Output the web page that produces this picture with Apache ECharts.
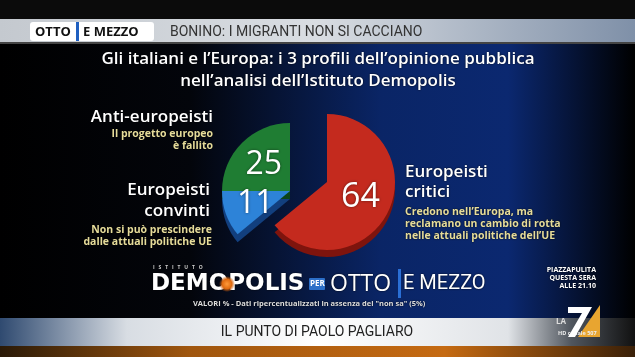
<!DOCTYPE html>
<html><head><meta charset="utf-8">
<script src="https://cdn.jsdelivr.net/npm/echarts@6/dist/echarts.min.js"></script>
<style>html,body{margin:0;padding:0;background:#000}#c{width:635px;height:357px}</style>
</head><body><div id="c"></div>
<script>
const categories = ['Europeisti critici', 'Europeisti convinti', 'Anti-europeisti'];
const values = [64, 11, 25];
const titleLines = ["Gli italiani e l\u2019Europa: i 3 profili dell\u2019opinione pubblica", "nell\u2019analisi dell\u2019Istituto Demopolis"];
const headline = 'BONINO: I MIGRANTI NON SI CACCIANO';
const footer = 'IL PUNTO DI PAOLO PAGLIARO';
const note = 'VALORI % - Dati ripercentualizzati in assenza del "non sa" (5%)';

const topColors = ['#c42a1e', '#2d83d8', '#1f7d33'];
const sideColors = ['#7e140d', '#123f7e', '#0c4519'];
const F = 'Open Sans';

const chart = echarts.init(document.getElementById('c'));
function txt(x, y, s, size, color, align, weight, font, shadow) {
  return {type:'text', x:x, y:y, style:{text:s, fill:color, font:(weight||'bold')+' '+size+'px "'+(font||F)+'"', textAlign:align||'left', textVerticalAlign:'middle', textShadowColor:shadow===false?'transparent':'rgba(0,0,0,0.85)', textShadowBlur:shadow===false?0:2}, z:10};
}
const yel = '#e6dc9a';
const graphics = [
  {type:'rect', shape:{x:0,y:0,width:635,height:19}, style:{fill:'#0b0b0b'}},
  {type:'rect', shape:{x:0,y:19,width:635,height:25}, style:{fill:new echarts.graphic.LinearGradient(0,0,1,0,[{offset:0,color:'#c4c9cf'},{offset:0.5,color:'#d9dde2'},{offset:1,color:'#7f90a8'}])}},
  {type:'rect', shape:{x:0,y:42,width:635,height:2}, style:{fill:'#444'}},
  {type:'rect', shape:{x:30,y:22,width:124,height:19,r:3}, style:{fill:'#ffffff'}},
  txt(35, 32, 'OTTO', 13, '#111', 'left', 'bold', 'Open Sans', false),
  {type:'rect', shape:{x:76,y:22,width:3,height:19}, style:{fill:'#1f5fc0'}},
  txt(83, 32, 'E MEZZO', 13, '#111', 'left', 'bold', 'Open Sans', false),
  txt(170, 32, headline, 14, '#333', 'left', 'normal', 'Roboto', false),
  txt(318, 59, titleLines[0], 17, '#fff', 'center', '600'),
  txt(318, 81, titleLines[1], 17, '#fff', 'center', '600'),
  txt(213, 117, 'Anti-europeisti', 17, '#fff', 'right', '600'),
  txt(213, 134, 'Il progetto europeo', 10.5, yel, 'right', 'bold'),
  txt(213, 146, '\u00e8 fallito', 10.5, yel, 'right', 'bold'),
  txt(210, 190, 'Europeisti', 17, '#fff', 'right', '600'),
  txt(210, 211, 'convinti', 17, '#fff', 'right', '600'),
  txt(212, 230, 'Non si pu\u00f2 prescindere', 10.5, yel, 'right', 'bold'),
  txt(212, 242, 'dalle attuali politiche UE', 10.5, yel, 'right', 'bold'),
  txt(405, 172, 'Europeisti', 17, '#fff', 'left', '600'),
  txt(405, 192, 'critici', 17, '#fff', 'left', '600'),
  txt(405, 212, 'Credono nell\u2019Europa, ma', 10.5, yel, 'left', 'bold'),
  txt(405, 224, 'reclamano un cambio di rotta', 10.5, yel, 'left', 'bold'),
  txt(405, 236, 'nelle attuali politiche dell\u2019UE', 10.5, yel, 'left', 'bold'),
  txt(153, 268, 'I   S   T   I   T   U   T   O', 5, '#ccc', 'left', 'bold'),
  txt(151, 284, 'DEMOPOLIS', 23, '#fff', 'left', '900', 'DejaVu Sans'),
  {type:'circle', shape:{cx:227,cy:284,r:8}, style:{fill:new echarts.graphic.RadialGradient(0.5,0.5,0.5,[{offset:0,color:'#ff9a3a'},{offset:0.6,color:'#e06a10'},{offset:1,color:'rgba(200,90,10,0)'}])}, z:11},
  {type:'rect', shape:{x:309,y:278,width:16,height:12,r:1}, style:{fill:'#2c6fc8'}},
  txt(310, 284, 'PER', 8, '#fff', 'left', 'bold', 'Open Sans', false),
  txt(330, 284, 'OTTO', 23, '#fff', 'normal', 'normal', 'Open Sans'),
  {type:'rect', shape:{x:398,y:269,width:3,height:29}, style:{fill:'#2a6fd6'}},
  txt(403, 284, 'E MEZZO', 20, '#fff', 'left', 'normal', 'Roboto'),
  txt(193, 304, note, 7.5, '#ddd', 'left', 'bold'),
  txt(596, 270, 'PIAZZAPULITA', 7, '#fff', 'right', 'bold'),
  txt(596, 278, 'QUESTA SERA', 7, '#fff', 'right', 'bold'),
  txt(596, 286, 'ALLE 21.10', 7, '#fff', 'right', 'bold'),
  {type:'rect', shape:{x:0,y:318,width:635,height:28}, style:{fill:new echarts.graphic.LinearGradient(0,0,1,0,[{offset:0,color:'#2f4a70'},{offset:0.2,color:'#d8dde3'},{offset:0.5,color:'#ffffff'},{offset:0.8,color:'#e0e3e7'},{offset:0.9,color:'#50565e'},{offset:1,color:'#111'}])}},
  {type:'rect', shape:{x:0,y:346,width:635,height:11}, style:{fill:new echarts.graphic.LinearGradient(0,0,1,0,[{offset:0,color:'#2a1a08'},{offset:0.3,color:'#a0560e'},{offset:0.7,color:'#c56a12'},{offset:1,color:'#3a2008'}])}},
  txt(317, 332, footer, 14, '#222', 'center', 'normal', 'Roboto', false),
  {type:'polygon', shape:{points:[[578,337],[600,305],[600,337]]}, style:{fill:'#e8a530'}, z:10},
  {type:'polygon', shape:{points:[[568,307],[592,307],[575,337],[568,337],[582,313],[568,313]]}, style:{fill:'#ffffff'}, z:11},
  txt(556, 322, 'LA', 8, '#ddd', 'left', 'bold', 'Open Sans', false),
  txt(558, 333, 'HD canale 507', 5.5, '#eee', 'left', 'bold', 'Open Sans', false)
];

function pieData(colors, keep, withLabel) {
  return categories.map((c, i) => ({name:c, value:values[i], itemStyle:{color: keep.indexOf(i) >= 0 ? colors[i] : 'rgba(0,0,0,0)'}, label:{show: withLabel && keep.indexOf(i) >= 0}}));
}
const R = 68;
const labelStyle = {show:true, position:'inside', formatter:'{c}', color:'#fff', fontSize:32, fontFamily:F, fontWeight:'normal', textShadowColor:'rgba(0,0,0,0.5)', textShadowBlur:3};
const base = {type:'pie', radius:[0,R], startAngle:90, clockwise:true, silent:true, animation:false, labelLine:{show:false}, itemStyle:{borderWidth:0}};
const option = {
  backgroundColor: new echarts.graphic.LinearGradient(0,0,1,0,[{offset:0,color:'#000'},{offset:0.3,color:'#03050b'},{offset:0.6,color:'#0a2566'},{offset:0.8,color:'#0b2870'},{offset:1,color:'#000'}]),
  graphic: graphics,
  series: [
    Object.assign({}, base, {center:[327,189], label:{show:false}, data:pieData(sideColors,[0],false), z:1}),
    Object.assign({}, base, {center:[290,199], label:{show:false}, data:pieData(sideColors,[1,2],false), z:1}),
    Object.assign({}, base, {center:[327,182], label:Object.assign({}, labelStyle, {fontSize:34}), data:pieData(topColors,[0],true), z:2}),
    Object.assign({}, base, {center:[290,191], label:labelStyle, data:pieData(topColors,[1,2],true), z:2})
  ]
};
chart.setOption(option);
</script></body></html>
